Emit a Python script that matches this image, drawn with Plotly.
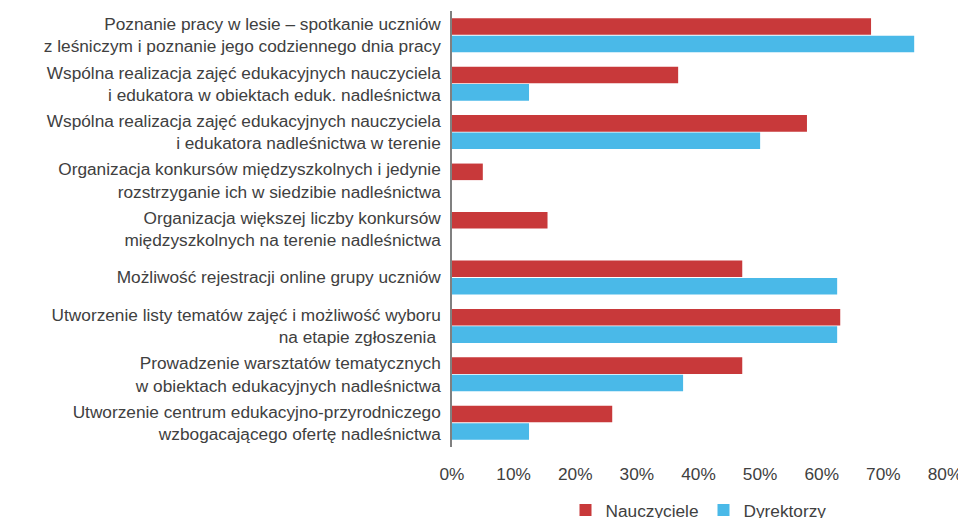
import plotly.graph_objects as go

categories = [
    "Poznanie pracy w lesie – spotkanie uczniów<br>z leśniczym i poznanie jego codziennego dnia pracy",
    "Wspólna realizacja zajęć edukacyjnych nauczyciela<br>i edukatora w obiektach eduk. nadleśnictwa",
    "Wspólna realizacja zajęć edukacyjnych nauczyciela<br>i edukatora nadleśnictwa w terenie",
    "Organizacja konkursów międzyszkolnych i jedynie<br>rozstrzyganie ich w siedzibie nadleśnictwa",
    "Organizacja większej liczby konkursów<br>międzyszkolnych na terenie nadleśnictwa",
    "Możliwość rejestracji online grupy uczniów",
    "Utworzenie listy tematów zajęć i możliwość wyboru<br>na etapie zgłoszenia ",
    "Prowadzenie warsztatów tematycznych<br>w obiektach edukacyjnych nadleśnictwa",
    "Utworzenie centrum edukacyjno-przyrodniczego<br>wzbogacającego ofertę nadleśnictwa",
]
nauczyciele = [0.68, 0.367, 0.576, 0.05, 0.155, 0.471, 0.63, 0.471, 0.26]
dyrektorzy = [0.75, 0.125, 0.50, 0.0, 0.0, 0.625, 0.625, 0.375, 0.125]
x_ticks = [0, 0.1, 0.2, 0.3, 0.4, 0.5, 0.6, 0.7, 0.8]
x_tick_labels = ["0%", "10%", "20%", "30%", "40%", "50%", "60%", "70%", "80%"]

RED = "#C8393A"
BLUE = "#4AB9E8"
TXT = "#404040"
FS = 17.25

fig = go.Figure()
fig.add_trace(go.Bar(y=categories, x=nauczyciele, name="Nauczyciele", orientation="h",
                     marker=dict(color=RED, line=dict(width=0))))
fig.add_trace(go.Bar(y=categories, x=dyrektorzy, name="Dyrektorzy", orientation="h",
                     marker=dict(color=BLUE, line=dict(width=0))))

fig.update_layout(
    width=958, height=510,
    margin=dict(l=444, r=21, t=3, b=71, autoexpand=False),
    paper_bgcolor="white", plot_bgcolor="white",
    barmode="group", bargap=0.28, bargroupgap=0.05,
    font=dict(family="Liberation Sans, Arial, sans-serif", size=FS, color=TXT),
    showlegend=True,
    legend=dict(orientation="h", x=0.5, xanchor="center", y=-0.145, yanchor="middle",
                font=dict(size=FS, color=TXT), itemwidth=30, traceorder="normal"),
)
fig.update_xaxes(range=[0, 0.8], tickvals=x_ticks, ticktext=x_tick_labels,
                 showgrid=False, zeroline=False, showline=False, ticks="", automargin=False,
                 ticklabelstandoff=15, tickfont=dict(size=FS, color=TXT))
fig.update_yaxes(autorange="reversed", showgrid=False, showline=True, linecolor="#808080",
                 linewidth=1.5, ticks="", automargin=False, ticklabelstandoff=6,
                 tickfont=dict(size=FS, color=TXT))

fig.write_html("out.html")
